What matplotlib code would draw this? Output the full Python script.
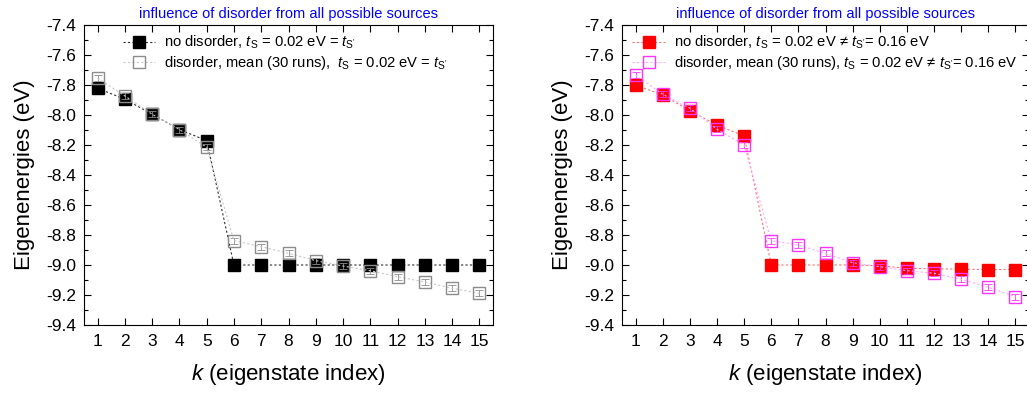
import numpy as np
import matplotlib.pyplot as plt
from matplotlib.ticker import MultipleLocator

plt.rcParams['font.family'] = ['Liberation Sans', 'DejaVu Sans']
plt.rcParams['mathtext.fontset'] = 'custom'
plt.rcParams['mathtext.rm'] = 'Liberation Sans'
plt.rcParams['mathtext.it'] = 'Liberation Sans:italic'

k = np.arange(1, 16)

# left: t_S = t_S' = 0.02 eV
clean_left = [-7.822, -7.895, -7.995, -8.097, -8.171, -9.0, -9.0, -9.0, -9.0, -9.0,
              -9.0, -9.0, -9.0, -9.0, -9.0]
dis_left = [-7.755, -7.873, -7.995, -8.097, -8.215, -8.838, -8.878, -8.922, -8.971, -9.007,
            -9.038, -9.078, -9.113, -9.155, -9.189]
err_left = [0.02, 0.02, 0.02, 0.02, 0.02, 0.02, 0.02, 0.02, 0.02, 0.02,
            0.02, 0.02, 0.02, 0.02, 0.02]

# right: t_S = 0.02 eV, t_S' = 0.16 eV
clean_right = [-7.800, -7.867, -7.971, -8.067, -8.140, -9.0, -9.0, -9.0, -9.0, -9.005,
               -9.022, -9.025, -9.028, -9.030, -9.030]
dis_right = [-7.733, -7.862, -7.955, -8.095, -8.200, -8.838, -8.867, -8.922, -8.985, -9.011,
             -9.038, -9.055, -9.095, -9.149, -9.211]
err_right = [0.02, 0.02, 0.02, 0.02, 0.02, 0.02, 0.02, 0.02, 0.02, 0.02,
             0.02, 0.02, 0.02, 0.02, 0.02]

title = "influence of disorder from all possible sources"
labels_left = [r"no disorder, $t_\mathrm{S}$ = 0.02 eV = $t_\mathrm{S'}$",
               r"disorder, mean (30 runs),  $t_\mathrm{S}$ = 0.02 eV = $t_\mathrm{S'}$"]
labels_right = [r"no disorder, $t_\mathrm{S}$ = 0.02 eV ≠ $t_\mathrm{S'}$= 0.16 eV",
                r"disorder, mean (30 runs), $t_\mathrm{S}$ = 0.02 eV ≠ $t_\mathrm{S'}$= 0.16 eV"]

W, H = 1027, 394
fig = plt.figure(figsize=(W / 100, H / 100), dpi=100)
ax1 = fig.add_axes([84 / W, 69 / H, 409 / W, 300 / H])
ax2 = fig.add_axes([622 / W, 69 / H, 407 / W, 300 / H])


def panel(ax, clean, dis, err, labels, c_fill, c_line, c_open, c_open_line, leg_x):
    l1, = ax.plot(k, clean, ls=(0, (2, 2)), lw=0.8, color=c_line, marker='s', ms=9.3,
                  mfc=c_fill, mec=c_fill, zorder=3, label=labels[0])
    ax.errorbar(k, dis, yerr=err, fmt='none', ecolor=c_open, elinewidth=0.6,
                capsize=3, capthick=0.6, zorder=4)
    l2, = ax.plot(k, dis, ls=(0, (2, 2)), lw=0.8, color=c_open_line, marker='s', ms=9,
                  mfc='none', mec=c_open, mew=1.0, zorder=4, label=labels[1])
    ax.set_xlim(0.5, 15.5)
    ax.set_ylim(-9.4, -7.4)
    ax.xaxis.set_major_locator(MultipleLocator(1))
    ax.yaxis.set_major_locator(MultipleLocator(0.2))
    ax.yaxis.set_minor_locator(MultipleLocator(0.1))
    ax.yaxis.set_major_formatter(plt.FuncFormatter(lambda v, p: f"{v:.1f}"))
    ax.tick_params(which='both', direction='in', top=True, right=True, labelsize=12.5,
                   width=0.8)
    ax.tick_params(which='major', length=5)
    ax.tick_params(which='minor', length=3)
    ax.tick_params(axis='x', pad=6.5)
    ax.tick_params(axis='y', pad=5.5)
    ax.set_xlabel(r"$k$ (eigenstate index)", fontsize=16, labelpad=9)
    ax.set_ylabel("Eigenenergies (eV)", fontsize=16, labelpad=8)
    ax.set_title(title, color='blue', fontsize=10.5, pad=5)
    ax.legend(handles=[l1, l2], loc='upper left', bbox_to_anchor=(leg_x, 1.005),
              frameon=False, fontsize=10.6, handlelength=2.2, handletextpad=0.6,
              labelspacing=0.2, borderaxespad=0.3)


panel(ax1, clean_left, dis_left, err_left, labels_left,
      'black', '#303030', '#8c8c8c', '#c8c8c8', 0.07)
panel(ax2, clean_right, dis_right, err_right, labels_right,
      'red', '#ff7070', '#ff33ff', '#ffaaff', 0.0)

fig.savefig("out.png", dpi=100)
